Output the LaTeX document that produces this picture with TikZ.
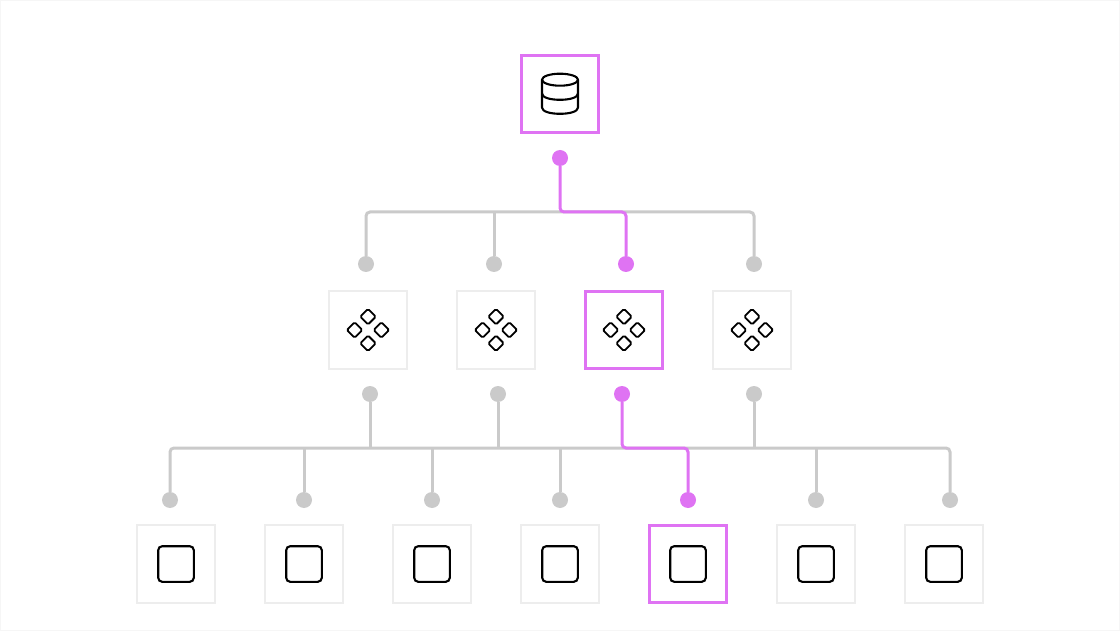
\documentclass[tikz,border=0pt]{standalone}
\definecolor{pinkc}{HTML}{DF73F3}
\definecolor{greyc}{HTML}{CACACA}
\definecolor{boxc}{HTML}{EDEDED}
\definecolor{framec}{HTML}{F6F6F6}
\tikzset{
  dotg/.style={circle,fill=greyc,draw=none,minimum size=16pt,inner sep=0pt},
  dotp/.style={circle,fill=pinkc,draw=none,minimum size=16pt,inner sep=0pt},
  boxg/.style={rectangle,draw=boxc,line width=2pt,fill=white,minimum size=78pt,inner sep=0pt,outer sep=0pt},
  boxp/.style={rectangle,draw=pinkc,line width=2.6pt,fill=white,minimum size=77.4pt,inner sep=0pt,outer sep=0pt},
  wireg/.style={draw=greyc,line width=3pt,rounded corners=4pt},
  wirep/.style={draw=pinkc,line width=3pt,rounded corners=4pt},
  icon/.style={draw=black,line width=2.1pt,line join=round},
  kite/.style={rectangle,draw=black,line width=1.8pt,rounded corners=1.5pt,rotate=45,minimum size=11pt,inner sep=0pt},
  sq/.style={rectangle,draw=black,line width=2.1pt,rounded corners=4pt,minimum size=35.6pt,inner sep=0pt}
}
\newcommand{\kites}[2]{%
  \node[kite] (#1t) at (#2,316.7) {};
  \node[kite] (#1b) at (#2,343.3) {};
  \node[kite] (#1l) at ([xshift=-13.4pt]#2,330) {};
  \node[kite] (#1r) at ([xshift=13.4pt]#2,330) {};
}
\begin{document}
\begin{tikzpicture}[x=1pt,y=-1pt]
\useasboundingbox (0,0) rectangle (1120,631);
\draw[framec,line width=1pt] (0.5,0.5) rectangle (1119.5,630.5);

% boxes
\node[boxp] (db) at (560,94) {};
\node[boxg] (m1) at (368,330) {};
\node[boxg] (m2) at (496,330) {};
\node[boxp] (m3) at (624,330) {};
\node[boxg] (m4) at (752,330) {};
\node[boxg] (l1) at (176,564) {};
\node[boxg] (l2) at (304,564) {};
\node[boxg] (l3) at (432,564) {};
\node[boxg] (l4) at (560,564) {};
\node[boxp] (l5) at (688,564) {};
\node[boxg] (l6) at (816,564) {};
\node[boxg] (l7) at (944,564) {};

% dots
\node[dotp] (d0) at (560,158) {};
\node[dotg] (a1) at (366,264) {};
\node[dotg] (a2) at (494,264) {};
\node[dotp] (a3) at (626,264) {};
\node[dotg] (a4) at (754,264) {};
\node[dotg] (b1) at (370,394) {};
\node[dotg] (b2) at (498,394) {};
\node[dotp] (b3) at (622,394) {};
\node[dotg] (b4) at (754,394) {};
\node[dotg] (c1) at (170,500) {};
\node[dotg] (c2) at (304,500) {};
\node[dotg] (c3) at (432,500) {};
\node[dotg] (c4) at (560,500) {};
\node[dotp] (c5) at (688,500) {};
\node[dotg] (c6) at (816,500) {};
\node[dotg] (c7) at (950,500) {};

\coordinate (busa) at (0,212);
\coordinate (busb) at (0,448);

% grey rails
\draw[wireg] (a1.north) -- (a1.north |- busa) -- (a4.north |- busa) -- (a4.north);
\draw[wireg] (c1.north) -- (c1.north |- busb) -- (c7.north |- busb) -- (c7.north);
% grey drops
\foreach \t in {a2}
  \draw[wireg] (\t.north) -- (\t.north |- busa);
\foreach \t in {b1,b2,b4}
  \draw[wireg] (\t.south) -- (\t.south |- busb);
\foreach \t in {c2,c3,c4,c6}
  \draw[wireg] (\t.north) -- (\t.north |- busb);

% pink connectors
\draw[wirep] (d0.south) -- (d0.south |- busa) -- (a3.north |- busa) -- (a3.north);
\draw[wirep] (b3.south) -- (b3.south |- busb) -- (c5.north |- busb) -- (c5.north);

% database icon
\draw[icon] (560,79.7) ellipse [x radius=18pt,y radius=6pt];
\draw[icon] (542,79.7) -- (542,107.5) .. controls (542,111.5) and (550,113.8) .. (560,113.8) .. controls (570,113.8) and (578,111.5) .. (578,107.5) -- (578,79.7);
\draw[icon] (542,93.5) .. controls (542,97.5) and (550,99.8) .. (560,99.8) .. controls (570,99.8) and (578,97.5) .. (578,93.5);

% kite icons
\kites{ka}{368}
\kites{kb}{496}
\kites{kc}{624}
\kites{kd}{752}

% square icons
\foreach \n/\x in {s1/176,s2/304,s3/432,s4/560,s5/688,s6/816,s7/944}
  \node[sq] (\n) at (\x,564) {};
\end{tikzpicture}
\end{document}
